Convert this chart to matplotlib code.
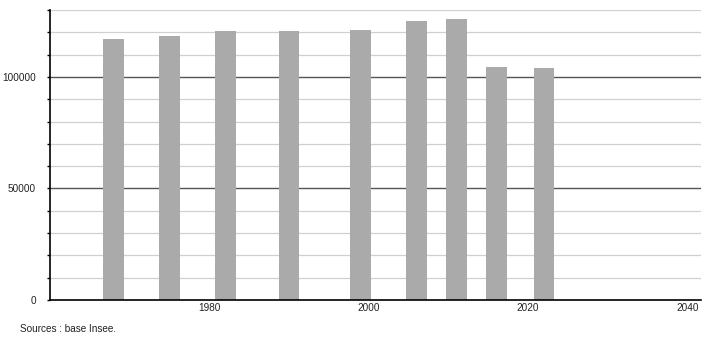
import matplotlib.pyplot as plt
import numpy as np

years = [1968, 1975, 1982, 1990, 1999, 2006, 2011, 2016, 2022]
population = [116900, 118500, 120600, 120600, 121000, 125100, 126000, 104500, 103900]
x_ticks = [1980, 2000, 2020, 2040]
y_labels = [0, 50000, 100000]

plt.rcParams['font.family'] = ['Liberation Sans', 'DejaVu Sans']

fig = plt.figure(figsize=(7.1, 3.4), dpi=100)
ax = fig.add_axes([50 / 710, 40 / 340, 651 / 710, 290 / 340])

# grid: light every 10000, darker at the labelled values
for v in range(10000, 130001, 10000):
    if v in y_labels:
        ax.axhline(v, color="#555555", linewidth=1, zorder=1)
    else:
        ax.axhline(v, color="#d0d0d0", linewidth=0.9, zorder=1)

ax.bar(years, population, width=2.6, color="#aaaaaa", zorder=2)

ax.set_xlim(1960, 2041.7)
ax.set_ylim(0, 130000)

ax.set_xticks(x_ticks)
ax.set_xticklabels([str(t) for t in x_ticks])
ax.set_yticks(np.arange(0, 130001, 10000))
ax.set_yticklabels([str(v) if v in y_labels else "" for v in range(0, 130001, 10000)])

ax.tick_params(axis="x", length=0, pad=2.5, labelsize=7.2, labelcolor="#222222")
ax.tick_params(axis="y", length=2, width=1, pad=8, labelsize=7.2, colors="black",
               labelcolor="#222222")

for side in ["top", "right"]:
    ax.spines[side].set_visible(False)
ax.spines["left"].set_linewidth(1.2)
ax.spines["bottom"].set_linewidth(1.2)

fig.text(20 / 710, 1 - 329 / 340, "Sources : base Insee.", fontsize=7.2,
         color="#222222", va="center", ha="left")

fig.savefig("out.png", dpi=100)
